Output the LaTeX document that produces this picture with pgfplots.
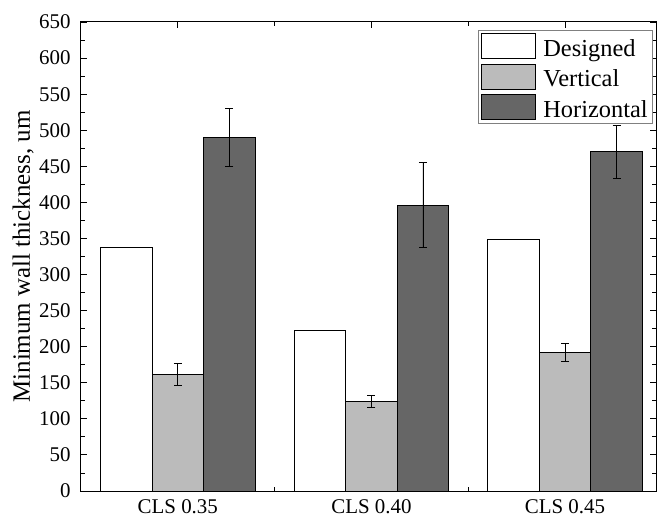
\documentclass[border=0pt]{standalone}
\usepackage{pgfplots}
\pgfplotsset{compat=1.18}
\usepackage{fontspec}
\setmainfont{Liberation Serif}
\definecolor{vgray}{HTML}{BBBBBB}
\definecolor{hgray}{HTML}{666666}
\pgfplotsset{
  mybox/.style={legend image code/.code={\draw[##1] (-2bp,-10bp) rectangle (52bp,15bp);}},
}
\begin{document}
\begin{tikzpicture}
\begin{axis}[
  scale only axis,
  width=575bp, height=469bp,
  xmin=0.5, xmax=3.47,
  ymin=0, ymax=650,
  ytick={0,50,...,650},
  minor y tick num=1,
  xtick={1,2,3},
  xticklabels={CLS 0.35, CLS 0.40, CLS 0.45},
  minor xtick={1.5,2.5},
  tick align=inside,
  tick pos=both,
  major tick length=6bp,
  minor tick length=4bp,
  axis line style={line width=1bp},
  every tick/.style={black, line width=0.9bp},
  /pgf/number format/assume math mode=true,
  ticklabel style={font=\fontsize{21}{23}\selectfont},
  yticklabel style={xshift=-7bp},
  xticklabel style={yshift=-5bp},
  ylabel={Minimum wall thickness, um},
  ylabel style={font=\fontsize{25}{28}\selectfont, at={(axis description cs:-0.076,0.5)}, anchor=south},
  legend style={at={(0.995,0.982)}, anchor=north east, draw=gray, line width=0.8bp,
    font=\fontsize{24.5}{27}\selectfont, inner xsep=3bp, inner ysep=2bp, row sep=4bp,
    column sep=5bp},
  legend cell align=left,
  every axis plot/.append style={ybar, bar width=0.266, bar shift=0pt, draw=black, line width=1bp, mybox},
]
\addplot[fill=white]
  coordinates {(0.734,338) (1.734,223) (2.734,349)};
\addlegendentry{Designed}
\addplot[fill=vgray,
  error bars/.cd, y dir=both, y explicit,
  error bar style={line width=0.7bp, black},
  error mark options={rotate=90, mark size=4bp, line width=0.7bp, black}]
  coordinates {(1,162) +- (0,15) (2,124) +- (0,8) (3,192) +- (0,13)};
\addlegendentry{Vertical}
\addplot[fill=hgray,
  error bars/.cd, y dir=both, y explicit,
  error bar style={line width=0.7bp, black},
  error mark options={rotate=90, mark size=4bp, line width=0.7bp, black}]
  coordinates {(1.266,490) +- (0,40) (2.266,396) +- (0,59) (3.266,470) +- (0,37)};
\addlegendentry{Horizontal}
\end{axis}
\pgfresetboundingbox
\useasboundingbox (-81bp,-27bp) rectangle (576bp,491bp);
\end{tikzpicture}
\end{document}
